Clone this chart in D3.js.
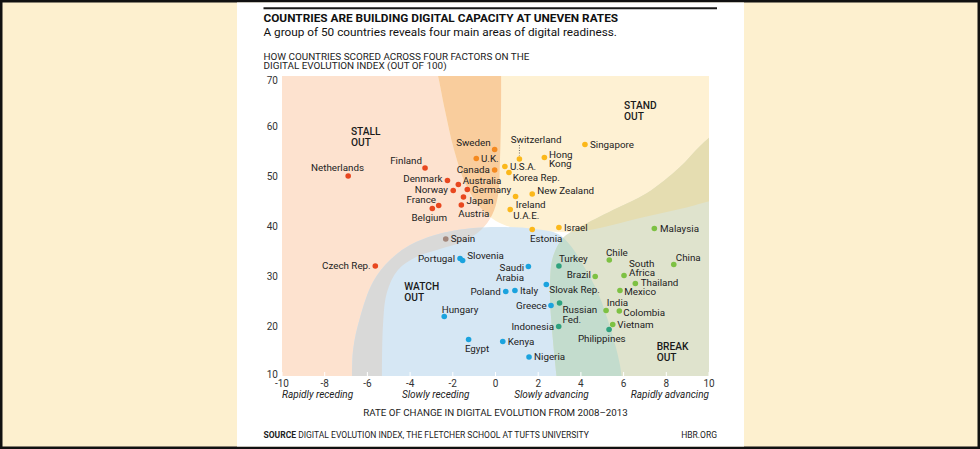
<!DOCTYPE html>
<html><head><meta charset="utf-8">
<script src="https://cdn.jsdelivr.net/npm/d3@7"></script>
<style>
html,body{margin:0;padding:0;background:#fff;}
svg{display:block;}
text{font-family:Roboto,"Open Sans",sans-serif;}
</style></head><body>
<svg id="c" width="980" height="449"></svg>
<script>
// ---------------- DATA ----------------
const countries = ["Netherlands","Finland","Denmark","Norway","Australia","Germany","Japan","France","Belgium","Austria","Czech Rep.",
  "Sweden","U.K.","Canada",
  "Switzerland","Hong Kong","Singapore","U.S.A.","Korea Rep.","New Zealand","Ireland","U.A.E.","Estonia","Israel",
  "Spain",
  "Portugal","Slovenia","Hungary","Egypt","Kenya","Nigeria","Poland","Italy","Saudi Arabia","Slovak Rep.","Greece",
  "Turkey","Russian Fed.","Indonesia","Philippines",
  "Malaysia","Chile","China","South Africa","Brazil","Thailand","Mexico","India","Colombia","Vietnam"];
const rateOfChange = [-6.9,-3.3,-2.25,-1.98,-1.74,-1.32,-1.5,-2.66,-2.96,-1.6,-5.63,
  -0.04,-0.9,-0.04,
  1.12,2.29,4.19,0.44,0.63,1.72,0.94,0.69,1.72,2.97,
  -2.33,
  -1.66,-1.54,-2.4,-1.26,0.34,1.57,0.48,0.91,1.54,2.38,2.6,
  2.97,3.0,2.96,5.32,
  7.44,5.33,8.35,6.02,4.67,6.55,5.83,5.18,5.8,5.49];
const evolutionScore = [50.0,51.6,49.1,47.1,48.3,47.3,45.8,44.1,43.5,44.2,32.0,
  55.3,53.5,51.2,
  53.4,53.7,56.3,51.9,50.7,46.4,45.9,43.3,39.3,39.7,
  37.4,
  33.5,33.1,21.9,17.3,16.9,13.8,26.9,27.1,31.9,28.3,24.1,
  32.0,24.6,19.9,19.3,
  39.5,33.2,32.3,30.1,29.9,28.5,27.1,23.1,23.0,20.3];
const zone = ["stall","stall","stall","stall","stall","stall","stall","stall","stall","stall","stall",
  "stall-stand","stall-stand","stall-stand",
  "stand","stand","stand","stand","stand","stand","stand","stand","stand","stand",
  "stall-watch",
  "watch","watch","watch","watch","watch","watch","watch","watch","watch","watch","watch",
  "watch-break","watch-break","watch-break","watch-break",
  "break","break","break","break","break","break","break","break","break","break"];

const xTicks = [-10,-8,-6,-4,-2,0,2,4,6,8,10];
const yTicks = [10,20,30,40,50,60,70];
const xDescriptors = ["Rapidly receding","Slowly receding","Slowly advancing","Rapidly advancing"];
const xDescriptorAt = [-10,-2.8,2.62,10];
const zoneTitles = [["STALL","OUT"],["STAND","OUT"],["WATCH","OUT"],["BREAK","OUT"]];
const zoneTitleAt = [[-6.77,58.3],[6.02,63.5],[-4.27,27.3],[7.55,15.3]];

// zone outlines (rate of change, score)
const stallEdge = [[0.26,73.2],[0.26,63.2],[0.21,53.2],[0.12,46.2],[-0.16,42.2],[-0.68,39.2],[-1.57,36.8],[-2.6,35.4],[-3.72,33.8],[-4.57,31.2],[-5.08,26.8],[-5.27,20.2],[-5.32,7.2]];
const stallOuter = [[-11.5,7.2],[-11.5,73.2]];
const standEdge = [[-2.88,73.2],[-2.69,70],[-2.37,63.2],[-1.94,55.2],[-1.38,48.2],[-0.73,43.8],[0.02,41],[0.91,39.6],[2.32,39],[3.58,38.8],[4.89,39.6],[6.77,41.6],[8.64,43.4],[10.52,45.6]];
const standOuter = [[10.6,73.2]];
const watchEdge = [[-6.72,7.2],[-6.67,15.2],[-6.35,21.6],[-5.74,28.8],[-4.94,33.2],[-4.0,36.2],[-2.83,38.2],[-1.43,39.4],[0.21,39.8],[1.85,39.4],[2.93,38.4],[3.49,36.2],[4.1,32.2],[4.8,26.6],[5.41,19.2],[5.83,12.2],[5.97,7.2]];
const watchOuter = [];
const breakEdge = [[10.52,59.6],[9.58,56],[8.64,51.8],[7.1,46.6],[5.5,43.2],[3.96,39.8],[3.16,37.6],[2.69,33.8],[2.55,27.2],[2.69,17.2],[2.93,7.2]];
const breakOuter = [[10.6,7.2]];

// ---------------- STYLE / LAYOUT ----------------
const dotColor = {"stall":"#e8471f","stall-stand":"#f4891f","stand":"#fbb81a","stall-watch":"#a3877b",
  "watch":"#1ba3de","watch-break":"#2fa27e","break":"#7dc143"};
const fillColor = {stall:"#fde2cf",stand:"#fef1d3",watch:"#d6e7f4",brk:"#dfe3cd",
  stallStand:"#f9cd9d",stallWatch:"#d9d9d8",standBreak:"#e5ddb1",watchBreak:"#c3dccd"};
// label placement: [dx, dy, anchor, lines?]
const place = {
 "Netherlands":[-10.6,-8.4,"middle"],"Finland":[-3,-7,"end"],"Denmark":[-5,-1.7,"end"],"Norway":[-5.3,-1.3,"end"],
 "Australia":[4.4,-4.4,"start"],"Germany":[4.7,0,"start"],"Japan":[3,3.3,"start"],"France":[-2.7,-6,"end"],
 "Belgium":[-3,8.7,"middle"],"Austria":[-3,8.3,"start"],"Czech Rep.":[-4.6,0,"end"],
 "Sweden":[-4,-6.7,"end"],"U.K.":[4.7,0,"start"],"Canada":[-4.7,0,"end"],
 "Switzerland":[-8.6,-19,"start"],"Hong Kong":[4.7,-3.4,"start",["Hong","Kong"]],"Singapore":[5,0,"start"],
 "U.S.A.":[5,0,"start"],"Korea Rep.":[3.7,5.4,"start"],"New Zealand":[5,-3.3,"start"],"Ireland":[0.3,7.6,"start"],
 "U.A.E.":[3,6.4,"start"],"Estonia":[-2.3,9,"start"],"Israel":[5,0,"start"],"Spain":[5,0,"start"],
 "Portugal":[-5,0,"end"],"Slovenia":[4.6,-4.7,"start"],"Hungary":[-2.6,-7.4,"start"],"Egypt":[-3.7,8.6,"start"],
 "Kenya":[5,0,"start"],"Nigeria":[5,0,"start"],"Poland":[-5,0,"end"],"Italy":[5,0,"start"],
 "Saudi Arabia":[-4.3,1,"end",["Saudi","Arabia"]],"Slovak Rep.":[3,5.3,"start"],"Greece":[-4.3,0,"end"],
 "Turkey":[0,-7.7,"start"],"Russian Fed.":[3,7,"start",["Russian","Fed."]],"Indonesia":[-4.7,0,"end"],
 "Philippines":[-7.3,8.7,"middle"],"Malaysia":[5.7,0,"start"],"Chile":[-3.3,-7.7,"start"],"China":[2,-6.6,"start"],
 "South Africa":[5,-12.4,"start",["South","Africa"]],"Brazil":[-4.3,-1.7,"end"],"Thailand":[5.4,-1,"start"],
 "Mexico":[4.3,1.4,"start"],"India":[0.7,-8,"start"],"Colombia":[4,1.7,"start"],"Vietnam":[4.6,0,"start"]
};

const svg = d3.select("#c");
const W = 980, H = 449;
// outer frame
svg.append("rect").attr("x",0).attr("y",0).attr("width",W).attr("height",H).attr("fill","#111");
svg.append("rect").attr("x",2.5).attr("y",2.5).attr("width",W-5).attr("height",H-5).attr("fill","#fdf0cf");
svg.append("rect").attr("x",237).attr("y",2.5).attr("width",507).attr("height",H-5).attr("fill","#fff");

const x = d3.scaleLinear().domain([-10,10]).range([282,709]);
const y = d3.scaleLinear().domain([10,70]).range([376,76]);

const edgeLine = d3.line().x(d=>x(d[0])).y(d=>y(d[1])).curve(d3.curveCatmullRom.alpha(0.5));
function zonePath(edge, outer){
  return edgeLine(edge) + outer.map(p=>"L"+x(p[0])+","+y(p[1])).join("") + "Z";
}
const zonePaths = {
  stall: zonePath(stallEdge, stallOuter),
  stand: zonePath(standEdge, standOuter),
  watch: zonePath(watchEdge, watchOuter),
  brk: zonePath(breakEdge, breakOuter)
};
const defs = svg.append("defs");
defs.append("clipPath").attr("id","plotClip").append("rect")
  .attr("x",x(-10)).attr("y",y(70)).attr("width",x(10)-x(-10)).attr("height",y(10)-y(70));
Object.keys(zonePaths).forEach(k=>{
  defs.append("clipPath").attr("id","zc-"+k).append("path").attr("d",zonePaths[k]);
});
const plot = svg.append("g").attr("clip-path","url(#plotClip)");
plot.append("rect").attr("x",x(-10)).attr("y",y(70)).attr("width",x(10)-x(-10)).attr("height",y(10)-y(70)).attr("fill","#fff");
plot.append("path").attr("d",zonePaths.stall).attr("fill",fillColor.stall);
plot.append("path").attr("d",zonePaths.stand).attr("fill",fillColor.stand);
plot.append("path").attr("d",zonePaths.watch).attr("fill",fillColor.watch);
plot.append("path").attr("d",zonePaths.brk).attr("fill",fillColor.brk);
function overlap(clipKey, pathKey, col){
  plot.append("g").attr("clip-path","url(#zc-"+clipKey+")").append("path").attr("d",zonePaths[pathKey]).attr("fill",col);
}
overlap("stall","stand",fillColor.stallStand);
overlap("stall","watch",fillColor.stallWatch);
overlap("stand","brk",fillColor.standBreak);
overlap("watch","brk",fillColor.watchBreak);

// small white ticks at bottom of plot
plot.selectAll("line.tk").data(xTicks).join("line").attr("class","tk")
  .attr("x1",d=>x(d)).attr("x2",d=>x(d)).attr("y1",y(10)-4).attr("y2",y(10))
  .attr("stroke","#fff").attr("stroke-width",1);

// zone titles
zoneTitles.forEach((t,i)=>{
  t.forEach((ln,j)=>{
    svg.append("text").attr("x",x(zoneTitleAt[i][0])).attr("y",y(zoneTitleAt[i][1]) + j*11.8)
      .attr("font-size",10.2).attr("font-weight",500).attr("fill","#1a1a1a").text(ln);
  });
});

// axes
const yAxisG = svg.append("g");
yAxisG.selectAll("text").data(yTicks).join("text")
  .attr("x",278).attr("y",d=>Math.min(Math.max(y(d),80),374)).attr("dy","0.35em")
  .attr("text-anchor","end").attr("font-size",10).attr("fill","#333").text(d=>d);
const xAxisG = svg.append("g");
xAxisG.selectAll("text").data(xTicks).join("text")
  .attr("x",d=>x(d)).attr("y",387).attr("text-anchor","middle")
  .attr("font-size",10).attr("fill","#333").text(d=>d<0?"-"+Math.abs(d):d);
svg.selectAll("text.desc").data(xDescriptors).join("text").attr("class","desc")
  .attr("x",(d,i)=>x(xDescriptorAt[i])).attr("y",397.5)
  .attr("text-anchor",(d,i)=>i===0?"start":(i===3?"end":"middle"))
  .attr("font-size",10).attr("font-style","italic").attr("fill","#222").text(d=>d);

function fit(sel, target){
  const w = sel.node().getComputedTextLength();
  const fs = parseFloat(sel.attr("font-size"));
  sel.attr("font-size", fs*target/w);
  return sel;
}
fit(svg.append("text").attr("x",x(0)).attr("y",415.8).attr("text-anchor","middle").attr("font-size",9)
  .attr("fill","#222").text("RATE OF CHANGE IN DIGITAL EVOLUTION FROM 2008–2013"), 265);

// dots
const idx = d3.range(countries.length);
svg.append("g").selectAll("circle").data(idx).join("circle")
  .attr("cx",i=>x(rateOfChange[i])).attr("cy",i=>y(evolutionScore[i])).attr("r",2.8)
  .attr("fill",i=>dotColor[zone[i]]);

// leader for Switzerland
const swi = countries.indexOf("Switzerland");
svg.append("line").attr("x1",x(rateOfChange[swi])).attr("x2",x(rateOfChange[swi]))
  .attr("y1",y(evolutionScore[swi])-14).attr("y2",y(evolutionScore[swi])-3.5)
  .attr("stroke","#444").attr("stroke-width",0.8).attr("stroke-dasharray","1,1.5");

// labels
const lab = svg.append("g");
idx.forEach(i=>{
  const p = place[countries[i]];
  const cx = x(rateOfChange[i]) + p[0], cy = y(evolutionScore[i]) + p[1];
  const lines = p[3] || [countries[i]];
  lines.forEach((ln,j)=>{
    lab.append("text").attr("x",cx).attr("y",cy + j*9.6).attr("dy","0.35em")
      .attr("text-anchor",p[2]).attr("font-size",9.8).attr("fill","#222").text(ln);
  });
});

// header
svg.append("line").attr("x1",263.5).attr("x2",717).attr("y1",8.3).attr("y2",8.3).attr("stroke","#1a1a1a").attr("stroke-width",2);
fit(svg.append("text").attr("x",263.5).attr("y",22.4).attr("font-size",11).attr("font-weight",700).attr("fill","#111")
  .text("COUNTRIES ARE BUILDING DIGITAL CAPACITY AT UNEVEN RATES"), 355);
fit(svg.append("text").attr("x",263.5).attr("y",35.6).attr("font-size",11).attr("fill","#111")
  .text("A group of 50 countries reveals four main areas of digital readiness."), 354);
const hl = fit(svg.append("text").attr("x",263.5).attr("y",59.6).attr("font-size",8.5).attr("fill","#222")
  .text("HOW COUNTRIES SCORED ACROSS FOUR FACTORS ON THE"), 266);
svg.append("text").attr("x",263.5).attr("y",69).attr("font-size",hl.attr("font-size"))
  .attr("fill","#222").text("DIGITAL EVOLUTION INDEX (OUT OF 100)");

// footer
const src = svg.append("text").attr("x",263.5).attr("y",438.3).attr("font-size",8).attr("fill","#222");
src.append("tspan").attr("font-weight",700).text("SOURCE");
src.append("tspan").text(" DIGITAL EVOLUTION INDEX, THE FLETCHER SCHOOL AT TUFTS UNIVERSITY");
fit(src, 326);
svg.append("text").attr("x",717).attr("y",438.3).attr("text-anchor","end").attr("font-size",src.attr("font-size"))
  .attr("fill","#222").text("HBR.ORG");
</script>
</body></html>
